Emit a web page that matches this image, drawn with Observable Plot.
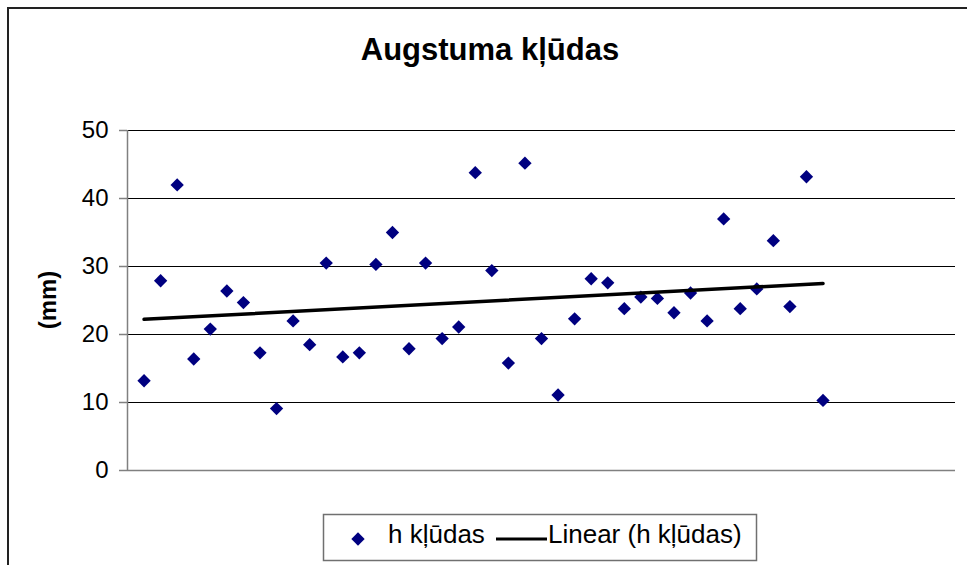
<!DOCTYPE html>
<html>
<head>
<meta charset="utf-8">
<script src="https://cdn.jsdelivr.net/npm/d3@7"></script>
<script src="https://cdn.jsdelivr.net/npm/@observablehq/plot@0.6"></script>
<style>
  html, body { margin: 0; padding: 0; background: #fff; }
  #wrap { position: relative; width: 967px; height: 565px; overflow: hidden; font-family: "Liberation Sans", Arial, sans-serif; }
  #wrap > svg { position: absolute; left: 0; top: 0; }
  #deco { pointer-events: none; }
</style>
</head>
<body>
<div id="wrap"></div>
<script>
const titleText = "Augstuma kļūdas";
const yLabel = "(mm)";
const seriesName = "h kļūdas";
const trendName = "Linear (h kļūdas)";
const yTicks = [0, 10, 20, 30, 40, 50];
const gridTicks = [10, 20, 30, 40, 50];
const pointIndex = [1,2,3,4,5,6,7,8,9,10,11,12,13,14,15,16,17,18,19,20,21,22,23,24,25,26,27,28,29,30,31,32,33,34,35,36,37,38,39,40,41,42];
const hErrors = [13.2, 27.9, 42.0, 16.4, 20.8, 26.4, 24.7, 17.3, 9.1, 22.0,
                 18.5, 30.5, 16.7, 17.3, 30.3, 35.0, 17.9, 30.5, 19.4, 21.1,
                 43.8, 29.4, 15.8, 45.2, 19.4, 11.1, 22.3, 28.2, 27.6, 23.8,
                 25.5, 25.3, 23.2, 26.1, 22.0, 37.0, 23.8, 26.7, 33.8, 24.1,
                 43.2, 10.3];

const data = pointIndex.map((x, i) => ({x, y: hErrors[i]}));

const chart = Plot.plot({
  width: 967,
  height: 565,
  marginLeft: 127,
  marginRight: 12,
  marginTop: 130,
  marginBottom: 95,
  x: {domain: [0, 50], axis: null},
  y: {domain: [0, 50], axis: null},
  style: {fontFamily: "'Liberation Sans', Arial, sans-serif", fontSize: "24px", color: "#000", background: "transparent", overflow: "visible"},
  marks: [
    Plot.gridY(gridTicks, {stroke: "#000", strokeOpacity: 1, strokeWidth: 1}),
    Plot.ruleY([0], {stroke: "#808080", strokeWidth: 1.5}),
    Plot.ruleX([0], {y1: 0, y2: 50, stroke: "#808080", strokeWidth: 1.5}),
    Plot.axisY({ticks: yTicks, tickSize: 8, tickPadding: 11, stroke: "#808080", strokeWidth: 1.5, label: null, fontSize: 24}),
    Plot.dot(data, {x: "x", y: "y", symbol: "diamond2", r: 6, fill: "#000080", stroke: "none"}),
    Plot.linearRegressionY(data, {x: "x", y: "y", stroke: "#000", strokeWidth: 3.5, ci: 0})
  ]
});
document.getElementById("wrap").appendChild(chart);

// decorations: frame, title, axis label, legend
const deco = d3.select("#wrap").append("svg").attr("id", "deco").attr("width", 967).attr("height", 565);
deco.append("path").attr("d", "M8,570 L8,8 L975,8").attr("fill", "none").attr("stroke", "#222").attr("stroke-width", 2);
deco.append("text").attr("x", 490).attr("y", 60).attr("text-anchor", "middle")
  .style("font", "bold 31px 'Liberation Sans', Arial, sans-serif").text(titleText);
deco.append("text").attr("transform", "translate(56,300) rotate(-90)").attr("text-anchor", "middle")
  .style("font", "bold 24px 'Liberation Sans', Arial, sans-serif").text(yLabel);

const lg = deco.append("g").attr("transform", "translate(323,514)");
lg.append("rect").attr("x", 0.5).attr("y", 0.5).attr("width", 433).attr("height", 46).attr("fill", "#fff").attr("stroke", "#707070").attr("stroke-width", 1.5);
lg.append("path").attr("d", d3.symbol(d3.symbolDiamond2, Math.PI * 36)()).attr("transform", "translate(35,25)").attr("fill", "#000080");
lg.append("text").attr("x", 65).attr("y", 29).style("font", "26px 'Liberation Sans', Arial, sans-serif").text(seriesName);
lg.append("line").attr("x1", 173).attr("x2", 224).attr("y1", 25).attr("y2", 25).attr("stroke", "#000").attr("stroke-width", 3);
lg.append("text").attr("x", 225).attr("y", 29).style("font", "26px 'Liberation Sans', Arial, sans-serif").text(trendName);
</script>
</body>
</html>
